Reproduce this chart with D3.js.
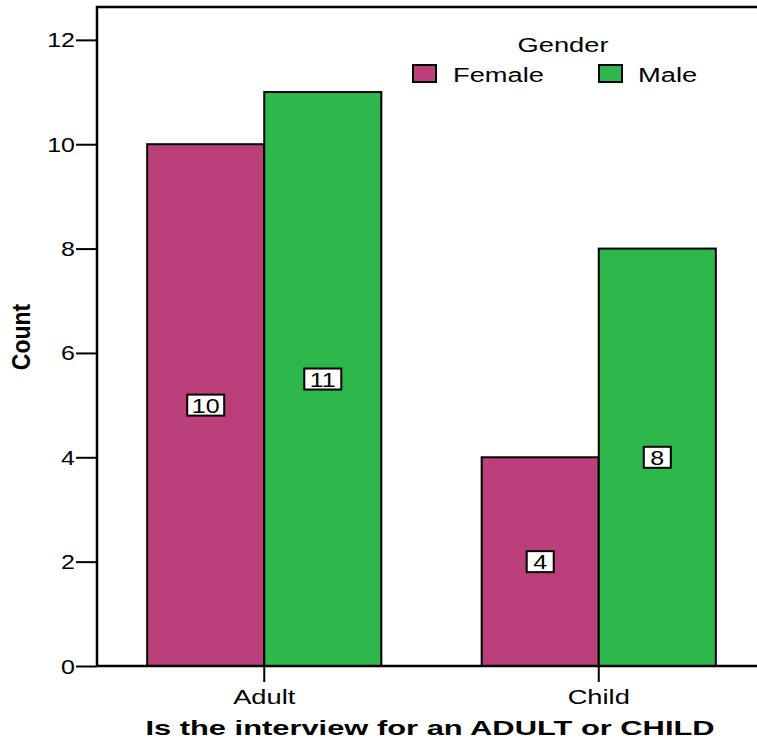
<!DOCTYPE html>
<html><head><meta charset="utf-8">
<script src="https://cdn.jsdelivr.net/npm/d3@7"></script>
<style>html,body{margin:0;padding:0;background:#fff;} svg{display:block;}</style>
</head><body>
<svg id="chart" width="757" height="740"></svg>
<script>
const categories = ["Adult", "Child"];
const genders = ["Female", "Male"];
const femaleCounts = [10, 4];
const maleCounts = [11, 8];
const yTicks = [0, 2, 4, 6, 8, 10, 12];
const colors = {Female: "#BA3F7B", Male: "#2EB84B"};

const data = categories.map((c, i) => ({cat: c, Female: femaleCounts[i], Male: maleCounts[i]}));
const FONT = "'Liberation Sans', Arial, sans-serif";

const svg = d3.select("#chart");
const plotLeft = 97, plotTop = 7, plotBottom = 666;

const x0 = d3.scaleBand().domain(categories).range([plotLeft, 766]).paddingInner(0.3).paddingOuter(0.15);
const x1 = d3.scaleBand().domain(genders).range([0, x0.bandwidth()]);
const y = d3.scaleLinear().domain([0, 12.63]).range([plotBottom, plotTop]);

function stext(g, x, yy, str, size, sx, anchor, weight) {
  return g.append("g").attr("transform", `translate(${x},${yy}) scale(${sx},1)`)
    .append("text").attr("x", 0).attr("y", 0)
    .attr("font-family", FONT).attr("font-size", size)
    .attr("font-weight", weight || "normal")
    .attr("text-anchor", anchor).attr("fill", "#000").text(str);
}

// bars
const groups = svg.append("g").selectAll("g").data(data).join("g")
  .attr("transform", d => `translate(${x0(d.cat)},0)`);
groups.selectAll("rect").data(d => genders.map(g => ({g, v: d[g]}))).join("rect")
  .attr("x", d => x1(d.g)).attr("width", x1.bandwidth())
  .attr("y", d => y(d.v)).attr("height", d => y(0) - y(d.v))
  .attr("fill", d => colors[d.g]).attr("stroke", "#000").attr("stroke-width", 2);

// frame
svg.append("path").attr("d", `M${plotLeft},${plotBottom}V${plotTop}H800`).attr("fill", "none")
  .attr("stroke", "#000").attr("stroke-width", 2.5);
svg.append("line").attr("x1", plotLeft).attr("x2", 800).attr("y1", plotBottom).attr("y2", plotBottom)
  .attr("stroke", "#000").attr("stroke-width", 2.5);

// y axis ticks
const yAxis = d3.axisLeft(y).tickValues(yTicks).tickSize(21).tickFormat("");
const ya = svg.append("g").attr("transform", `translate(${plotLeft},0)`).call(yAxis);
ya.select(".domain").remove();
ya.selectAll("line").attr("stroke", "#000").attr("stroke-width", 2);
yTicks.forEach(v => stext(svg, 75, y(v) + 7.5, String(v), 20.5, 1.22, "end"));

// x axis ticks
const xAxis = d3.axisBottom(x0).tickSize(16).tickFormat("");
const xa = svg.append("g").attr("transform", `translate(0,${plotBottom})`).call(xAxis);
xa.select(".domain").remove();
xa.selectAll("line").attr("stroke", "#000").attr("stroke-width", 2);
categories.forEach(c => stext(svg, x0(c) + x0.bandwidth() / 2, 704, c, 21, 1.3, "middle"));

// value labels
data.forEach(d => {
  genders.forEach(g => {
    const cx = x0(d.cat) + x1(g) + x1.bandwidth() / 2;
    const cy = y(d[g] / 2);
    const s = String(d[g]);
    const w = s.length === 1 ? 27 : 37;
    svg.append("rect").attr("x", cx - w / 2).attr("y", cy - 10.5).attr("width", w).attr("height", 21)
      .attr("fill", "#fff").attr("stroke", "#000").attr("stroke-width", 2);
    stext(svg, cx, cy + 7.5, s, 20.5, 1.22, "middle");
  });
});

// axis titles
stext(svg, 430, 735, "Is the interview for an ADULT or CHILD", 21, 1.47, "middle", "bold");
svg.append("text")
  .attr("transform", `translate(30,337) rotate(-90) scale(1,1.12)`)
  .attr("font-family", FONT).attr("font-size", 23).attr("font-weight", "bold")
  .attr("text-anchor", "middle").text("Count");

// legend
stext(svg, 563, 52, "Gender", 21, 1.3, "middle");
const legendItems = [{g: "Female", sx: 413, tx: 453}, {g: "Male", sx: 599, tx: 638}];
legendItems.forEach(it => {
  svg.append("rect").attr("x", it.sx).attr("y", 65).attr("width", 23).attr("height", 17)
    .attr("fill", colors[it.g]).attr("stroke", "#000").attr("stroke-width", 2);
  stext(svg, it.tx, 81.5, it.g, 21, 1.3, "start");
});
</script>
</body></html>
